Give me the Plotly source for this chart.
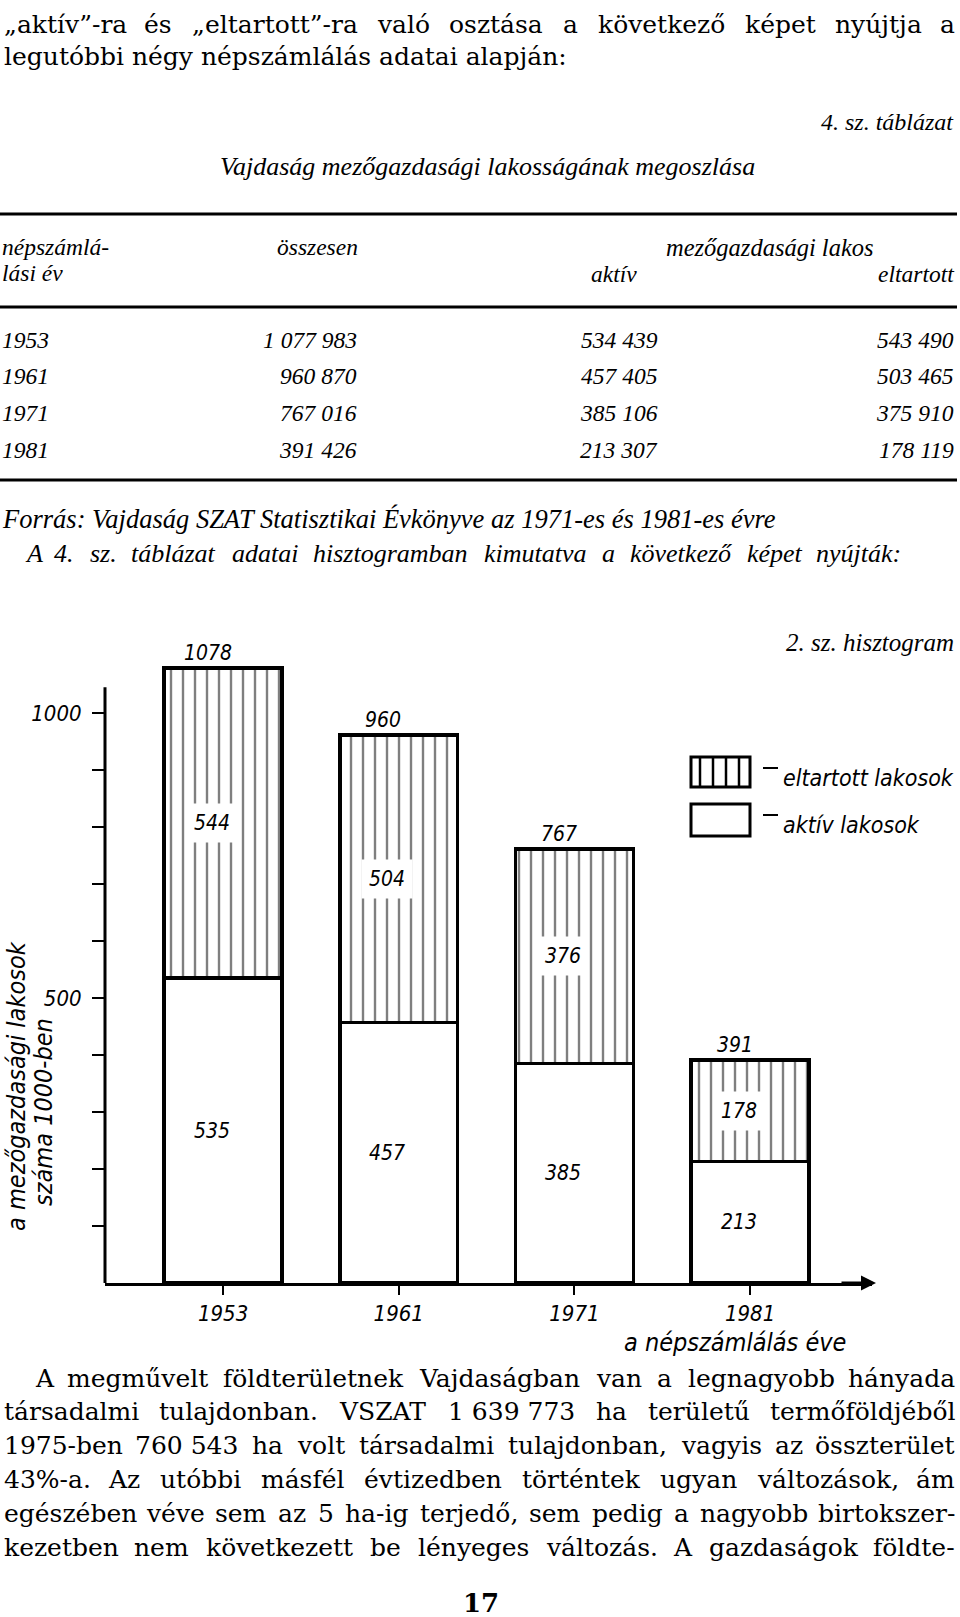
import unicodedata
import plotly.graph_objects as go

# ---------------- data ----------------
years = ["1953", "1961", "1971", "1981"]
total_persons = [1077983, 960870, 767016, 391426]
active_persons = [534439, 457405, 385106, 213307]
dependent_persons = [543490, 503465, 375910, 178119]

# histogram values (thousands, as printed on the chart)
hist_active = [535, 457, 385, 213]
hist_dependent = [544, 504, 376, 178]
hist_total = [1078, 960, 767, 391]
y_ticks = [100, 200, 300, 400, 500, 600, 700, 800, 900, 1000]
y_tick_text = ["", "", "", "", "500", "", "", "", "", "1000"]

top_par_line1 = "„aktív”-ra és „eltartott”-ra való osztása a következő képet nyújtja a"
top_par_line2 = "legutóbbi négy népszámlálás adatai alapján:"
bottom_par = [
    "A megművelt földterületnek Vajdaságban van a legnagyobb hányada",
    "társadalmi tulajdonban. VSZAT 1\u00a0639\u00a0773 ha területű termőföldjéből",
    "1975-ben 760\u00a0543 ha volt társadalmi tulajdonban, vagyis az összterület",
    "43%-a. Az utóbbi másfél évtizedben történtek ugyan változások, ám",
    "egészében véve sem az 5 ha-ig terjedő, sem pedig a nagyobb birtokszer-",
    "kezetben nem következett be lényeges változás. A gazdaságok földte-",
]

# ---------------- helpers ----------------
W, H = 960, 1617


def px(x):
    return x / W


def py(y):
    return 1 - y / H


SERIF = "DejaVu Serif"
ITSERIF = "Liberation Serif"
SANS = "DejaVu Sans Condensed, DejaVu Sans, sans-serif"

VERA_SERIF = dict(
    zip("abcdefghijklmnopqrstuvwxyz",
        [596, 640, 560, 640, 592, 370, 640, 644, 320, 310, 606, 320, 948,
         644, 602, 640, 640, 478, 513, 402, 644, 565, 856, 564, 565, 527]))
VERA_SERIF.update(dict(
    zip("ABCDEFGHIJKLMNOPQRSTUVWXYZ",
        [722, 735, 765, 802, 730, 694, 799, 872, 395, 401, 747, 664, 1024,
         875, 820, 673, 820, 753, 685, 667, 843, 722, 1028, 712, 660, 695])))
VERA_SERIF.update({c: 636 for c in "0123456789"})
VERA_SERIF.update({" ": 318, "\u00a0": 318, ",": 318, ".": 318, "-": 338,
                   ":": 337, "%": 950, "„": 500, "”": 500, "\"": 460})

TIMES = dict(
    zip("abcdefghijklmnopqrstuvwxyz",
        [500, 500, 444, 500, 444, 278, 500, 500, 278, 278, 444, 278, 722,
         500, 500, 500, 500, 389, 389, 278, 500, 444, 667, 444, 444, 389]))
TIMES.update(dict(
    zip("ABCDEFGHIJKLMNOPQRSTUVWXYZ",
        [611, 611, 667, 722, 611, 611, 722, 722, 333, 444, 667, 556, 833,
         667, 722, 611, 722, 611, 500, 556, 722, 611, 833, 611, 556, 556])))
TIMES.update({c: 500 for c in "0123456789"})
TIMES.update({" ": 250, "\u00a0": 250, ",": 250, ".": 250, "-": 333,
              ":": 333, "%": 833})


def text_width(s, table, fs):
    w = 0
    for ch in s:
        base = unicodedata.normalize("NFD", ch)[0]
        w += table.get(base, 550)
    return w * fs / 1000.0


annotations = []


def add_text(text, x, y, size, family, anchor="left", style="normal",
             weight="normal", color="black"):
    annotations.append(dict(
        text=text, x=px(x), y=py(y), xref="paper", yref="paper",
        xanchor=anchor, yanchor="middle", showarrow=False,
        font=dict(family=family, size=size, color=color, style=style,
                  weight=weight)))


def justify(line, x0, x1, y, size, family, table, style="normal"):
    words = line.split(" ")
    widths = [text_width(w, table, size) for w in words]
    gap = (x1 - x0 - sum(widths)) / (len(words) - 1)
    x = x0
    for i, (w, wd) in enumerate(zip(words, widths)):
        if i == 0:
            add_text(w, x, y, size, family, "left", style)
        elif i == len(words) - 1:
            add_text(w, x1, y, size, family, "right", style)
        else:
            add_text(w, x + wd / 2, y, size, family, "center", style)
        x += wd + gap


# ---------------- page text ----------------
BODY = 25
justify(top_par_line1, 2, 957, 24, BODY, SERIF, VERA_SERIF)
add_text(top_par_line2, 2, 56, BODY, SERIF)

add_text("4. sz. táblázat", 956, 122, 24, ITSERIF, "right", "italic")
add_text("Vajdaság mezőgazdasági lakosságának megoszlása", 487, 166, 26,
         ITSERIF, "center", "italic")

# table header
TF = 23.5
add_text("népszámlá-", 0, 247, TF, ITSERIF, "left", "italic")
add_text("lási év", 0, 273, TF, ITSERIF, "left", "italic")
add_text("összesen", 317, 247, TF, ITSERIF, "center", "italic")
add_text("mezőgazdasági lakos", 770, 247, 24.5, ITSERIF, "center", "italic")
add_text("aktív", 614, 274, TF, ITSERIF, "center", "italic")
add_text("eltartott", 956, 274, TF, ITSERIF, "right", "italic")


def fmt(v):
    return f"{v:,}".replace(",", " ")


row_y = [340, 376, 413, 450]
for yr, tot, act, dep, yy in zip(years, total_persons, active_persons,
                                 dependent_persons, row_y):
    add_text(yr, 0, yy, TF, ITSERIF, "left", "italic")
    add_text(fmt(tot), 359, yy, TF, ITSERIF, "right", "italic")
    add_text(fmt(act), 660, yy, TF, ITSERIF, "right", "italic")
    add_text(fmt(dep), 956, yy, TF, ITSERIF, "right", "italic")

add_text("Forrás: Vajdaság SZAT Statisztikai Évkönyve az 1971-es és 1981-es évre",
         0, 519, 26.5, ITSERIF, "left", "italic")
justify("A 4. sz. táblázat adatai hisztogramban kimutatva a következő képet nyújták:",
        23, 903, 553, 26, ITSERIF, TIMES, "italic")
add_text("2. sz. hisztogram", 956, 643, 25, ITSERIF, "right", "italic")

# bottom paragraph
bottom_y = [1378, 1411, 1445, 1479, 1513, 1547]
for i, (line, yy) in enumerate(zip(bottom_par, bottom_y)):
    justify(line, 33 if i == 0 else 2, 957, yy, BODY, SERIF, VERA_SERIF)

add_text("17", 481, 1603, 26, SERIF, "center", "normal", "bold")

# ---------------- chart ----------------
x_pos = list(range(len(years)))
fig = go.Figure()
fig.add_trace(go.Bar(
    x=x_pos, y=hist_active, width=0.67, name="aktív lakosok",
    marker=dict(color="white", line=dict(color="black", width=3.5)),
    showlegend=False, hoverinfo="skip"))
fig.add_trace(go.Bar(
    x=x_pos, y=hist_dependent, width=0.67, name="eltartott lakosok",
    marker=dict(color="white", line=dict(color="black", width=3.5),
                pattern=dict(shape="|", fgcolor="black", bgcolor="white",
                             size=12, solidity=0.2)),
    showlegend=False, hoverinfo="skip"))

lab_font = dict(family=SANS, size=21, color="black", style="italic")
for i in x_pos:
    a, d = hist_active[i], hist_dependent[i]
    annotations.append(dict(x=i - 0.065, y=a / 2, xref="x", yref="y",
                            xanchor="center", yanchor="middle",
                            text=str(a), showarrow=False, font=lab_font,
                            bgcolor="white", borderpad=3))
    annotations.append(dict(x=i - 0.065, y=a + d / 2, xref="x", yref="y",
                            xanchor="center", yanchor="middle",
                            text=str(d), showarrow=False, font=lab_font,
                            bgcolor="white", borderpad=7))
    annotations.append(dict(x=i - 0.087, y=a + d, xref="x", yref="y",
                            xanchor="center", yanchor="bottom",
                            text=str(hist_total[i]), showarrow=False,
                            font=lab_font, yshift=1))

# y axis title (two rotated lines)
ttl_font = dict(family=SANS, size=25, color="black", style="italic")
annotations.append(dict(
    text="a mezőgazdasági lakosok", x=px(16), y=py(1086),
    xref="paper", yref="paper", xanchor="center", yanchor="middle",
    textangle=-90, showarrow=False, font=ttl_font))
annotations.append(dict(
    text="száma 1000-ben", x=px(43), y=py(1112),
    xref="paper", yref="paper", xanchor="center", yanchor="middle",
    textangle=-90, showarrow=False, font=ttl_font))

# x axis caption
annotations.append(dict(
    text="a népszámlálás éve", x=px(735), y=py(1342), xref="paper",
    yref="paper", xanchor="center", yanchor="middle", showarrow=False,
    font=dict(family=SANS, size=25, color="black", style="italic")))

# arrow at end of x axis
annotations.append(dict(
    x=px(876), y=py(1283), xref="paper", yref="paper", ax=-36, ay=0,
    showarrow=True, arrowhead=2, arrowsize=1, arrowwidth=3,
    arrowcolor="black", text=""))

# legend
leg_font = dict(family=SANS, size=23, color="black", style="italic")
annotations.append(dict(text="eltartott lakosok", x=px(781), y=py(778),
                        xref="paper", yref="paper", xanchor="left",
                        yanchor="middle", showarrow=False, font=leg_font))
annotations.append(dict(text="aktív lakosok", x=px(781), y=py(825),
                        xref="paper", yref="paper", xanchor="left",
                        yanchor="middle", showarrow=False, font=leg_font))

shapes = []
line_blk = dict(color="black", width=3)
# table rules
for yy in (214, 307, 480):
    shapes.append(dict(type="line", xref="paper", yref="paper", x0=0,
                       x1=px(957), y0=py(yy), y1=py(yy), line=line_blk))
# y axis line
shapes.append(dict(type="line", xref="paper", yref="y", x0=px(105),
                   x1=px(105), y0=0, y1=1045, line=line_blk))
# legend boxes
shapes.append(dict(type="rect", xref="paper", yref="paper", x0=px(691),
                   x1=px(750), y0=py(757), y1=py(787), line=line_blk,
                   fillcolor="white"))
for xx in (700, 713, 726, 739):
    shapes.append(dict(type="line", xref="paper", yref="paper", x0=px(xx),
                       x1=px(xx), y0=py(758), y1=py(786),
                       line=dict(color="black", width=2.5)))
shapes.append(dict(type="rect", xref="paper", yref="paper", x0=px(691),
                   x1=px(750), y0=py(804), y1=py(836), line=line_blk,
                   fillcolor="white"))
for yy in (768, 815):
    shapes.append(dict(type="line", xref="paper", yref="paper", x0=px(763),
                       x1=px(778), y0=py(yy), y1=py(yy),
                       line=dict(color="black", width=2)))

tick_font = dict(family=SANS, size=22, color="black", style="italic")
fig.update_layout(
    width=W, height=H, margin=dict(l=0, r=0, t=0, b=0),
    paper_bgcolor="white", plot_bgcolor="white", barmode="stack",
    showlegend=False,
    xaxis=dict(domain=[px(105), px(872)], range=[-0.672, 3.694],
               tickvals=x_pos, ticktext=years, showline=True,
               linecolor="black", linewidth=3, ticks="outside", ticklen=9,
               tickwidth=2, tickcolor="black", tickfont=tick_font,
               showgrid=False, zeroline=False, fixedrange=True),
    yaxis=dict(domain=[py(1283), py(645)], range=[0, 1119.3],
               tickvals=y_ticks, ticktext=y_tick_text, showline=False,
               ticks="outside", ticklen=12, tickwidth=2, tickcolor="black",
               ticklabelstandoff=6,
               tickfont=dict(family=SANS, size=22, color="black",
                             style="italic"),
               showgrid=False, zeroline=False, fixedrange=True),
    annotations=annotations, shapes=shapes,
)

fig.write_html("out.html")
